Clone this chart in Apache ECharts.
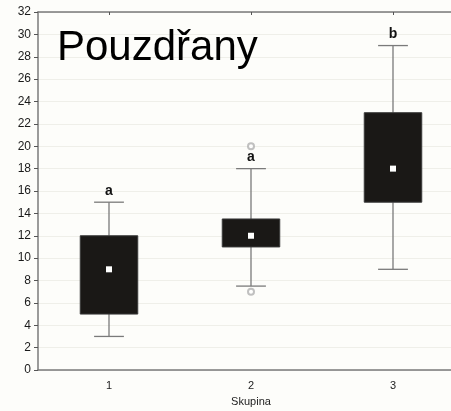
<!DOCTYPE html>
<html>
<head>
<meta charset="utf-8">
<script src="https://cdn.jsdelivr.net/npm/echarts@6/dist/echarts.min.js"></script>
<style>
  html, body { margin: 0; padding: 0; background: #fdfdfa; }
  #chart { width: 451px; height: 411px; }
</style>
</head>
<body>
<div id="chart"></div>
<script>
// Groups and their box statistics
const categories = ['1', '2', '3'];
const whiskerLow = [3, 7.5, 9];
const boxLow = [5, 11, 15];
const centre = [9, 12, 18];
const boxHigh = [12, 13.5, 23];
const whiskerHigh = [15, 18, 29];
const letters = ['a', 'a', 'b'];
// Outlying observations: [group index, value]
const outliers = [[1, 20], [1, 7]];

const chart = echarts.init(document.getElementById('chart'), null, { renderer: 'canvas' });

const boxData = categories.map((c, i) => [i, whiskerLow[i], boxLow[i], centre[i], boxHigh[i], whiskerHigh[i], letters[i]]);

function renderBox(params, api) {
  const x = api.value(0);
  const pLow = api.coord([x, api.value(1)]);
  const pQ1 = api.coord([x, api.value(2)]);
  const pMid = api.coord([x, api.value(3)]);
  const pQ3 = api.coord([x, api.value(4)]);
  const pHigh = api.coord([x, api.value(5)]);
  const band = api.size([1, 0])[0];
  const boxW = band * 0.405;
  const capW = band * 0.21;
  const cx = pMid[0];
  const grey = '#7a7a7a';
  return {
    type: 'group',
    children: [
      { type: 'line', shape: { x1: cx, y1: pHigh[1], x2: cx, y2: pQ3[1] }, style: { stroke: grey, lineWidth: 1.3 } },
      { type: 'line', shape: { x1: cx, y1: pQ1[1], x2: cx, y2: pLow[1] }, style: { stroke: grey, lineWidth: 1.3 } },
      { type: 'line', shape: { x1: cx - capW / 2, y1: pHigh[1], x2: cx + capW / 2, y2: pHigh[1] }, style: { stroke: grey, lineWidth: 1.3 } },
      { type: 'line', shape: { x1: cx - capW / 2, y1: pLow[1], x2: cx + capW / 2, y2: pLow[1] }, style: { stroke: grey, lineWidth: 1.3 } },
      { type: 'rect', shape: { x: cx - boxW / 2, y: pQ3[1], width: boxW, height: pQ1[1] - pQ3[1] },
        style: { fill: '#1a1816', stroke: '#3a3a3a', lineWidth: 1 } },
      { type: 'rect', shape: { x: cx - 3, y: pMid[1] - 3, width: 6, height: 6 }, style: { fill: '#ffffff' } },
      { type: 'text', x: cx, y: pHigh[1] - 4,
        style: { text: api.value(6), fill: '#111', font: 'bold 14px "Liberation Sans", Arial, sans-serif',
                 align: 'center', verticalAlign: 'bottom' } }
    ]
  };
}

const option = {
  backgroundColor: '#fdfdfa',
  animation: false,
  title: {
    text: 'Pouzdřany',
    left: 52, top: 22,
    textStyle: { fontFamily: '"Liberation Sans", Arial, sans-serif', fontSize: 42, fontWeight: 'normal', color: '#000' }
  },
  grid: { left: 38, top: 12, width: 426, height: 358, outerBoundsMode: 'none', containLabel: false },
  xAxis: [
    {
      type: 'category', data: categories, position: 'bottom',
      name: 'Skupina', nameLocation: 'middle', nameGap: 26,
      nameTextStyle: { fontFamily: '"Liberation Sans", Arial, sans-serif', fontSize: 11, color: '#222' },
      axisLine: { lineStyle: { color: '#7a7a7a', width: 1.5 } },
      axisTick: { alignWithLabel: true, inside: true, length: 3, lineStyle: { color: '#555' } },
      axisLabel: { fontFamily: '"Liberation Sans", Arial, sans-serif', fontSize: 11, color: '#222', margin: 10 },
      splitLine: { show: false }
    },
    {
      type: 'category', data: categories, position: 'top',
      axisLine: { show: true, lineStyle: { color: '#7a7a7a', width: 1.5 } },
      axisTick: { show: true, alignWithLabel: true, inside: true, length: 3, lineStyle: { color: '#555' } },
      axisLabel: { show: false }
    }
  ],
  yAxis: {
    type: 'value', min: 0, max: 32, interval: 2,
    axisLine: { show: true, lineStyle: { color: '#7a7a7a', width: 1.5 } },
    axisTick: { show: true, length: 4, lineStyle: { color: '#555' } },
    axisLabel: { fontFamily: '"Liberation Sans", Arial, sans-serif', fontSize: 12, color: '#1a1a1a', margin: 7 },
    splitLine: { show: true, lineStyle: { color: '#efefe9', width: 1 } }
  },
  series: [
    {
      type: 'custom', xAxisIndex: 0, renderItem: renderBox, data: boxData,
      encode: { x: 0, y: [1, 5] }, z: 3
    },
    {
      type: 'scatter', xAxisIndex: 0, data: outliers,
      symbol: 'emptyCircle', symbolSize: 6,
      itemStyle: { color: '#b0b0b0', borderWidth: 1 }, z: 4
    }
  ]
};

chart.setOption(option);
</script>
</body>
</html>
